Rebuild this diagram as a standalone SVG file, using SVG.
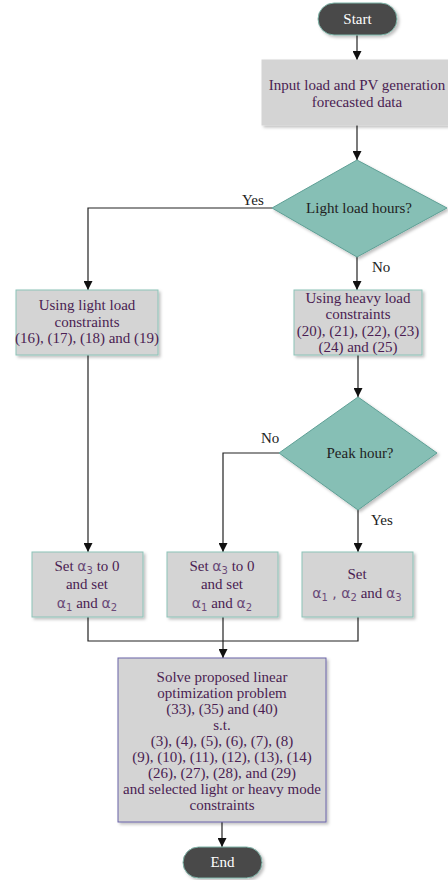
<svg xmlns="http://www.w3.org/2000/svg" width="448" height="880" viewBox="0 0 448 880">
<defs>
<marker id="ah" viewBox="0 0 10 10" refX="10" refY="5" markerWidth="9" markerHeight="9" markerUnits="userSpaceOnUse" orient="auto"><path d="M0,0 L10,5 L0,10 z" fill="#111"/></marker>
<filter id="sh" x="-10%" y="-10%" width="130%" height="130%"><feDropShadow dx="2" dy="2" stdDeviation="1.5" flood-color="#000" flood-opacity="0.25"/></filter>
<style>
.box{fill:#d4d4d4;stroke:#8cc3b8;stroke-width:1;filter:url(#sh)}
.dia{fill:#86bfb5;stroke:#5e9f95;stroke-width:1;filter:url(#sh)}
.cap{fill:#4a4a4a;stroke:#7fb5a9;stroke-width:1;filter:url(#sh)}
text{font-family:'Liberation Serif','Times New Roman',serif}
.t{font-size:15px;fill:#4a1d52;text-anchor:middle}
.td{font-size:15px;fill:#222;text-anchor:middle}
.tw{font-size:15px;fill:#fff;text-anchor:middle}
.lb{font-size:15px;fill:#222}
.a{font-family:'DejaVu Sans',sans-serif;font-size:14px;fill:#6a4a78}
.s{font-size:10px}
.c{fill:none;stroke:#222;stroke-width:1.2}
</style>
</defs>
<g id="connectors">
<path class="c" d="M357,35 V60" marker-end="url(#ah)"/>
<path class="c" d="M357,125 V160" marker-end="url(#ah)"/>
<path class="c" d="M272,208 H88 V290" marker-end="url(#ah)"/>
<path class="c" d="M357,257 V290" marker-end="url(#ah)"/>
<path class="c" d="M358,355 V397" marker-end="url(#ah)"/>
<path class="c" d="M279,453 H223 V552" marker-end="url(#ah)"/>
<path class="c" d="M358,510 V552" marker-end="url(#ah)"/>
<path class="c" d="M88,355 V552" marker-end="url(#ah)"/>
<path class="c" d="M88,617 V641 H358 V617"/>
<path class="c" d="M223,617 V658" marker-end="url(#ah)"/>
<path class="c" d="M222,822 V847" marker-end="url(#ah)"/>
<text class="lb" x="242" y="205">Yes</text>
<text class="lb" x="372" y="272">No</text>
<text class="lb" x="261" y="443">No</text>
<text class="lb" x="371" y="525">Yes</text>
</g>
<g id="start">
<rect class="cap" x="318" y="3" width="79" height="32" rx="16"/>
<text class="tw" x="357.5" y="24">Start</text>
</g>
<g id="input">
<rect class="box" x="262" y="60" width="186" height="65" style="stroke:#d4d4d4"/>
<text class="t" x="357" y="90">Input load and PV generation</text>
<text class="t" x="357" y="107">forecasted data</text>
</g>
<g id="light-q">
<polygon class="dia" points="357,160 447,208 357,257 272,208"/>
<text class="td" x="359" y="213">Light load hours?</text>
</g>
<g id="light-box">
<rect class="box" x="16" y="290" width="142" height="65"/>
<text class="t" x="87" y="310">Using light load</text>
<text class="t" x="87" y="327">constraints</text>
<text class="t" x="87" y="343">(16), (17), (18) and (19)</text>
</g>
<g id="heavy-box">
<rect class="box" x="294" y="290" width="128" height="65"/>
<text class="t" x="358" y="303">Using heavy load</text>
<text class="t" x="358" y="319">constraints</text>
<text class="t" x="358" y="336">(20), (21), (22), (23)</text>
<text class="t" x="358" y="352">(24) and (25)</text>
</g>
<g id="peak-q">
<polygon class="dia" points="358,397 437,453 358,510 279,453"/>
<text class="td" x="360" y="458">Peak hour?</text>
</g>
<g id="set-left">
<rect class="box" x="32" y="552" width="111" height="65"/>
<text class="t" x="87" y="571">Set <tspan class="a">α<tspan class="s" dy="3">3</tspan></tspan><tspan dy="-3"> to 0</tspan></text>
<text class="t" x="87" y="589">and set</text>
<text class="t" x="87" y="608"><tspan class="a">α<tspan class="s" dy="3">1</tspan></tspan><tspan dy="-3"> and </tspan><tspan class="a">α<tspan class="s" dy="3">2</tspan></tspan></text>
</g>
<g id="set-mid">
<rect class="box" x="167" y="552" width="111" height="65"/>
<text class="t" x="222" y="571">Set <tspan class="a">α<tspan class="s" dy="3">3</tspan></tspan><tspan dy="-3"> to 0</tspan></text>
<text class="t" x="222" y="589">and set</text>
<text class="t" x="222" y="608"><tspan class="a">α<tspan class="s" dy="3">1</tspan></tspan><tspan dy="-3"> and </tspan><tspan class="a">α<tspan class="s" dy="3">2</tspan></tspan></text>
</g>
<g id="set-right">
<rect class="box" x="302" y="552" width="111" height="65"/>
<text class="t" x="357" y="579">Set</text>
<text class="t" x="357" y="598"><tspan class="a">α<tspan class="s" dy="3">1</tspan></tspan><tspan class="a" dy="-3"> , α<tspan class="s" dy="3">2</tspan></tspan><tspan dy="-3"> and </tspan><tspan class="a">α<tspan class="s" dy="3">3</tspan></tspan></text>
</g>
<g id="solve">
<rect class="box" x="118" y="658" width="208" height="164" style="stroke:#6b64a8"/>
<text class="t" x="222" y="682">Solve proposed linear</text>
<text class="t" x="222" y="698">optimization problem</text>
<text class="t" x="222" y="714">(33), (35) and (40)</text>
<text class="t" x="222" y="730">s.t.</text>
<text class="t" x="222" y="746">(3), (4), (5), (6), (7), (8)</text>
<text class="t" x="222" y="762">(9), (10), (11), (12), (13), (14)</text>
<text class="t" x="222" y="778">(26), (27), (28), and (29)</text>
<text class="t" x="222" y="794">and selected light or heavy mode</text>
<text class="t" x="222" y="810">constraints</text>
</g>
<g id="end">
<rect class="cap" x="183" y="847" width="79" height="31" rx="15.5"/>
<text class="tw" x="222.5" y="867">End</text>
</g>
</svg>
